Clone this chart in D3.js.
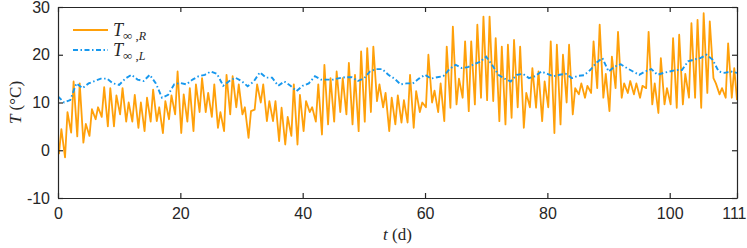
<!DOCTYPE html>
<html><head><meta charset="utf-8">
<script src="https://cdn.jsdelivr.net/npm/d3@7"></script>
<style>
html,body{margin:0;padding:0;background:#fff;}
svg{display:block;}
</style></head>
<body>
<svg id="chart" width="747" height="248"></svg>
<script>
// ---- data ----
const xTicks = [0, 20, 40, 60, 80, 100, 111];
const yTicks = [-10, 0, 10, 20, 30];
// T_inf,R : daily trough and peak (°C), day 0..110, plus final value at t=111
const rLow = [-0.8,-1.5,3.7,2.9,1.6,3,6.5,7,5,5,7.5,6,6,4.7,4,6,6.1,3.6,6.5,7.5,
  3.6,6,4,8,8,7,4.7,4,7.5,9,7.5,2.6,8.5,10,6.1,6.1,1.9,1.2,3,1.2,
  4,8,6,3.3,5.4,6,8,7.5,5.4,4,6,8,10.3,9,4,5.4,5.8,5.8,4.7,8,
  9,10,8,6.1,8.9,9.6,11,8.2,9.6,11,10.5,10.3,6.1,5.4,6.8,9,4.7,9,8.9,6.1,
  9,3.6,5.4,10,7.5,11.7,11,12,13,11,8.2,13,11,12,11.7,11,13,9.6,7.8,9.6,
  9.6,8.9,9.6,11,11,8.9,12,15.1,11.7,11,11];
const rHigh = [4.4,8,14.4,14,5.5,8.6,9,13.2,13,11.5,13,10,11.6,10,11,12.7,9,10.3,11.5,16.5,
  11.7,13,13.8,15.1,12,13.8,8,15.8,15.5,13.8,9,8.2,13.8,13.8,10.3,10.3,8.9,7,13.8,11.6,
  10.3,9,13.8,17.9,15.1,16.5,15.1,18.3,15.8,20.7,21.4,21.7,13.8,12,11,11.5,10.5,15.8,12.4,10,
  20,12.5,14,21.7,25.9,15,22.8,22.8,26.3,28,28,23.5,21.7,22.1,23.1,21.7,12,17.2,16.5,14.4,
  22.8,22.1,20,22.1,13,14,13.5,22.8,26.3,16,19.6,24.8,14,14.5,14,13.5,24.8,14,19.3,13,
  23.5,24.2,16,26.6,27.3,28.7,27,14,13,22.4,17.2];
const rEnd = 10.5;
// T_inf,L : daily values (°C), day 0..111
const lDaily = [11.3,10,10.5,14,13,14,14.5,15,15,14,13.7,15,15.8,14.8,14.5,15.8,14,11,11.6,13.8,
  14.1,13.8,14.8,15.5,15.8,16.5,16,13.5,14.5,15.2,14.5,13.4,14.4,16.3,15.2,15.2,13.5,14.4,13.5,12.4,
  13.5,14,15.5,14.8,14.8,14.8,15.1,15.3,15.3,14.5,15,16.5,17,17,15.8,15,13.8,14,14,15,
  15.8,15,15.3,15.5,17,17.9,17.2,17.4,18,18.5,19.6,17.8,15.8,15,14.4,15.8,16,15.1,15.5,16.5,
  16,15.5,15.8,16,15.1,15.6,15.7,16.8,18.3,19.3,16.5,17.5,18,17.2,16.5,15.8,16.5,17,15.8,16.2,
  16.5,16.8,16.8,18.6,19,19.3,20,19,16.5,16.2,16.5,16.2];
const seriesNames = ["R", "L"];
const seriesColors = ["#ffa00a", "#1798ee"];

// ---- build point lists ----
const rPts = [];
rLow.forEach((v, d) => { rPts.push([d + 0.15, v]); rPts.push([d + 0.55, rHigh[d]]); });
rPts.push([111, rEnd]);
const lPts = lDaily.map((v, d) => [d, v]);

// ---- layout ----
const svg = d3.select("#chart");
const L = 58, R = 737, T = 7, B = 198;
const x = d3.scaleLinear().domain([0, 111]).range([L, R]);
const y = d3.scaleLinear().domain([-10, 30]).range([B, T]);
const ink = "#262626";
const dash = "5,2.5,1.5,2.5";

const line = d3.line().x(d => x(d[0])).y(d => y(d[1]));
svg.append("clipPath").attr("id", "clip").append("rect")
  .attr("x", L).attr("y", T).attr("width", R - L).attr("height", B - T);

const g = svg.append("g").attr("clip-path", "url(#clip)");
g.append("path").datum(rPts).attr("d", line).attr("fill", "none")
  .attr("stroke", seriesColors[0]).attr("stroke-width", 1.8).attr("stroke-linejoin", "round");
g.append("path").datum(lPts).attr("d", line).attr("fill", "none")
  .attr("stroke", seriesColors[1]).attr("stroke-width", 1.9)
  .attr("stroke-dasharray", dash);

// ---- axes (ticks inward on all sides) ----
const fontTick = "'Liberation Sans', Arial, Helvetica, sans-serif";
const axB = svg.append("g").attr("transform", `translate(0,${B})`)
  .call(d3.axisBottom(x).tickValues(xTicks).tickSizeInner(-5).tickSizeOuter(0).tickPadding(10).tickFormat(d3.format("d")));
const axT = svg.append("g").attr("transform", `translate(0,${T})`)
  .call(d3.axisTop(x).tickValues(xTicks).tickSizeInner(-5).tickSizeOuter(0).tickFormat(""));
const axL = svg.append("g").attr("transform", `translate(${L},0)`)
  .call(d3.axisLeft(y).tickValues(yTicks).tickSizeInner(-5).tickSizeOuter(0).tickPadding(8).tickFormat(d => d3.format("d")(d).replace("−", "-")));
const axR = svg.append("g").attr("transform", `translate(${R},0)`)
  .call(d3.axisRight(y).tickValues(yTicks).tickSizeInner(-5).tickSizeOuter(0).tickFormat(""));
[axB, axT, axL, axR].forEach(a => {
  a.selectAll("path.domain").attr("stroke", ink).attr("stroke-width", 1.2);
  a.selectAll(".tick line").attr("stroke", ink).attr("stroke-width", 1.2);
  a.selectAll("text").attr("fill", ink).style("font-family", fontTick).style("font-size", "16px");
});
// keep the last x label inside the picture
axB.selectAll(".tick").filter(d => d === 111).select("text")
  .attr("text-anchor", "end").attr("x", 746 - x(111));

// ---- axis labels ----
const serif = "'Liberation Serif', 'DejaVu Serif', serif";
const xl = svg.append("text").attr("x", x(55.5)).attr("y", 240).attr("text-anchor", "middle")
  .style("font-family", serif).style("font-size", "17px").attr("fill", ink);
xl.append("tspan").style("font-style", "italic").text("t");
xl.append("tspan").text(" (d)");
const yl = svg.append("text").attr("transform", `translate(21,${y(10)}) rotate(-90)`).attr("text-anchor", "middle")
  .style("font-family", serif).style("font-size", "17px").attr("fill", ink);
yl.append("tspan").style("font-style", "italic").text("T");
yl.append("tspan").text(" (°C)");

// ---- legend ----
const leg = svg.append("g");
seriesNames.forEach((nm, i) => {
  const ly = 30 + i * 20;
  leg.append("line").attr("x1", 73).attr("x2", 108).attr("y1", ly).attr("y2", ly)
    .attr("stroke", seriesColors[i]).attr("stroke-width", 1.8)
    .attr("stroke-dasharray", i === 1 ? dash : null);
  const t = leg.append("text").attr("x", 113).attr("y", ly + 6)
    .style("font-family", serif).style("font-size", "18px").attr("fill", ink);
  t.append("tspan").style("font-style", "italic").text("T");
  t.append("tspan").attr("dy", 4).style("font-size", "13px").text("∞ ,");
  t.append("tspan").style("font-size", "12px").style("font-style", "italic").text(nm);
});
</script>
</body></html>
